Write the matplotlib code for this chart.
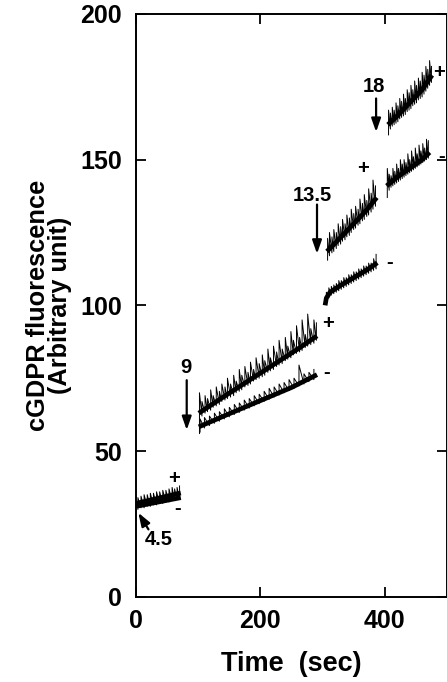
import numpy as np
import matplotlib
matplotlib.use("Agg")
import matplotlib.pyplot as plt

plt.rcParams['font.family'] = ['Liberation Sans', 'DejaVu Sans']
plt.rcParams['font.weight'] = 'bold'

# ================= data =================
# ---- 4.5 mM ----
core1p_t = [0, 36, 72]
core1p_v = [32, 33.8, 35.6]
core1m_t = [0, 36, 72]
core1m_v = [31, 32.5, 34]
spk1_t = [3, 8, 13, 18, 23, 28, 33, 38, 43, 48, 53, 58, 62, 66, 70]
spk1_hi = [34, 34.5, 35, 35, 35.5, 35.5, 36, 36, 36.5, 36.5, 37, 37.5, 37, 37.5, 38]
spk1_lo = [30, 30.5, 30.5, 31, 31, 31.5, 31.5, 32, 32, 32.5, 32.5, 33, 33, 33.5, 33.5]

# ---- 9 mM (+) ----
core2p_t = [101, 140, 180, 220, 260, 291]
core2p_v = [63, 68.5, 74, 79.5, 85, 89.5]
spk2p_t = [102, 106, 111, 115, 120, 124, 129, 134, 138, 143, 147, 152, 157, 161, 166, 170,
           175, 180, 184, 189, 193, 198, 203, 207, 212, 216, 221, 226, 230, 235, 240, 244,
           249, 253, 258, 263, 267, 272, 276, 281, 286, 290]
spk2p_hi = [70, 67, 69, 68, 71, 69, 72, 70.5, 73, 72, 75, 73, 76, 74, 78, 76, 79, 77, 80.5,
            78, 82, 80, 83, 81, 85, 82, 86, 84, 88, 85, 89, 86, 91, 88, 93, 89, 95, 90, 97,
            92, 95, 94]
spk2p_lo = [56, 62, 63, 63.5, 64, 65, 65.5, 66, 67, 67.5, 68, 68.5, 69, 70, 70.5, 71, 72,
            72.5, 73, 74, 74.5, 75, 75.5, 76, 77, 77.5, 78, 79, 79.5, 80, 81, 81.5, 82, 83,
            83.5, 84, 84.5, 85.5, 86, 86.5, 87, 88]

# ---- 9 mM (-) ----
core2m_t = [101, 150, 200, 250, 291]
core2m_v = [58.3, 62.8, 67.3, 71.8, 76.2]
spk2m_t = [103, 110, 118, 126, 134, 142, 150, 158, 166, 174, 182, 190, 198, 206, 214, 222,
           230, 238, 246, 254, 262, 270, 278, 286]
spk2m_hi = [61, 61.5, 62, 63, 63.5, 64.5, 65, 66, 66.5, 67.5, 68, 69, 69.5, 70.5, 71.5, 72,
            73, 73.5, 74.5, 75, 79.5, 76.5, 77, 78]
spk2m_lo = [56.5, 57.9, 58.7, 59.5, 60.2, 61, 61.7, 62.5, 63.2, 64, 64.7, 65.5, 66.2, 67,
            67.7, 68.5, 69.2, 70, 70.7, 71.5, 72.3, 73, 73.8, 74.5]

# ---- 13.5 mM (+) ----
core3p_t = [307, 330, 350, 370, 387]
core3p_v = [118.5, 123.5, 128, 132.5, 137]
spk3p_t = [308, 311, 315, 318, 322, 325, 329, 332, 336, 339, 343, 346, 350, 353, 357, 360,
           364, 367, 371, 374, 378, 381, 385]
spk3p_hi = [123, 125, 123.5, 126, 125, 128, 127, 129.5, 128, 131, 130, 133, 131.5, 134, 133,
            136.5, 135, 138, 136, 140, 138.5, 143, 141]
spk3p_lo = [115.5, 117, 118, 118.5, 119.5, 120.5, 121, 122, 122.5, 123.5, 124, 125, 126,
            126.5, 127.5, 128, 129, 129.5, 130.5, 131, 132, 133, 134]

# ---- 13.5 mM (-) ----
core3m_t = [304, 306, 312, 330, 350, 370, 388]
core3m_v = [100, 102.5, 104.5, 107, 109.5, 112, 114.6]
spk3m_t = [306, 310, 314, 318, 322, 326, 330, 334, 338, 342, 346, 350, 354, 358, 362, 366,
           370, 374, 378, 382, 386]
spk3m_hi = [104.5, 106, 106.5, 107, 107.5, 108.5, 108.5, 109.5, 109.5, 110.5, 110.5, 111.5,
            111.5, 112.5, 112.5, 113.5, 113.5, 114.5, 114.5, 116, 117.5]
spk3m_lo = [100.5, 102.5, 103.5, 104, 104.5, 105, 105.5, 106, 106.5, 107, 107.5, 108, 108.5,
            109, 109.5, 110, 110.5, 111, 111.5, 112, 112.5]

# ---- 18 mM (-) ----
core4m_t = [403, 420, 440, 460, 472]
core4m_v = [141, 144, 147, 150, 152.5]
spk4m_t = [404, 407, 410, 413, 416, 419, 422, 425, 428, 431, 434, 437, 440, 443, 446, 449,
           452, 455, 458, 461, 464, 467, 470]
spk4m_hi = [147, 145, 144.5, 147, 146, 148.5, 147, 150, 148.5, 150, 149, 152, 150, 153, 151,
            154, 152, 155, 153, 155.5, 154, 157, 156.5]
spk4m_lo = [137, 139.5, 140.5, 141, 141.5, 142, 142.5, 143, 143.5, 144, 144.5, 145, 145.5,
            146, 146.5, 147, 147.5, 148, 148.5, 149, 149.5, 150, 150.5]

# ---- 18 mM (+) ----
core4p_t = [405, 420, 440, 460, 476]
core4p_v = [162, 165, 169.5, 174, 179]
spk4p_t = [406, 409, 412, 415, 418, 421, 424, 427, 430, 433, 436, 439, 442, 445, 448, 451,
           454, 457, 460, 463, 466, 469, 472, 475]
spk4p_hi = [167, 166, 168, 167, 169.5, 168.5, 171, 170, 172.5, 171, 174, 173, 175.5, 174, 177,
            175.5, 178, 177, 180, 179, 182, 181, 184, 182]
spk4p_lo = [158.5, 160.5, 161.5, 162, 162.5, 163, 164, 164.5, 165, 165.5, 166.5, 167, 167.5,
            168.5, 169, 169.5, 170.5, 171, 171.5, 172.5, 173.5, 174.5, 175.5, 176.5]

# concentration labels
conc_labels = ['4.5', '9', '13.5', '18']
conc_text_xy = [(36.5, 19.5), (80, 78.8), (283.5, 137.8), (383, 175)]
conc_arrow_tail = [(20, 23.1), (81.5, 74.3), (291, 134.6), (386, 171)]
conc_arrow_tip = [(3.7, 28.8), (81.5, 57.2), (291, 117.7), (386, 159.5)]

sign_text = ['+', '-', '+', '-', '+', '-', '+', '-']
sign_x = [61, 66, 309, 307, 365, 408, 488, 491]
sign_y = [40.7, 30.4, 93.6, 76.8, 147, 114.6, 180, 151]

x_ticks = [0, 200, 400]
y_ticks = [0, 50, 100, 150, 200]

# ================= figure =================
fig = plt.figure(figsize=(4.47, 6.82), dpi=100)
ax = fig.add_axes([0.3043, 0.1251, 0.6957, 0.8544])

cores = [(core1p_t, core1p_v), (core1m_t, core1m_v), (core2p_t, core2p_v),
         (core2m_t, core2m_v), (core3p_t, core3p_v), (core3m_t, core3m_v),
         (core4m_t, core4m_v), (core4p_t, core4p_v)]
for t, v in cores:
    ax.plot(t, v, color='black', lw=3.4, solid_capstyle='butt')

spikes = [(spk1_t, spk1_lo, spk1_hi), (spk2p_t, spk2p_lo, spk2p_hi),
          (spk2m_t, spk2m_lo, spk2m_hi), (spk3p_t, spk3p_lo, spk3p_hi),
          (spk3m_t, spk3m_lo, spk3m_hi), (spk4m_t, spk4m_lo, spk4m_hi),
          (spk4p_t, spk4p_lo, spk4p_hi)]
for t, lo, hi in spikes:
    # noisy trace: each reading goes from its low to its high value, then on to the next
    xs = np.repeat(np.asarray(t, float), 2)
    ys = np.column_stack([lo, hi]).ravel()
    ax.plot(xs, ys, color='black', lw=0.7)

ax.set_xlim(0, 500)
ax.set_ylim(0, 200)
ax.set_xticks(x_ticks)
ax.set_yticks(y_ticks)
ax.tick_params(direction='in', length=7, width=1.3, labelsize=18, top=True, right=True,
               labeltop=False, labelright=False)
ax.tick_params(axis='x', pad=9)
ax.tick_params(axis='y', pad=10)
for s in ax.spines.values():
    s.set_linewidth(1.4)

ax.set_xlabel('Time  (sec)', fontsize=19.5, fontweight='bold', labelpad=13)
ax.set_ylabel('cGDPR fluorescence\n(Arbitrary unit)', fontsize=18.3, fontweight='bold',
              labelpad=6, linespacing=0.92)

fs = 14.5
for lab, txy, tail, tip in zip(conc_labels, conc_text_xy, conc_arrow_tail, conc_arrow_tip):
    ax.text(txy[0], txy[1], lab, fontsize=fs, ha='center', va='center')
    ax.annotate('', xy=tip, xytext=tail,
                arrowprops=dict(arrowstyle='-|>,head_width=0.28,head_length=0.8',
                                color='black', lw=1.6, shrinkA=0, shrinkB=0))

for s, x, y in zip(sign_text, sign_x, sign_y):
    ax.text(x, y, s, fontsize=fs, ha='center', va='center')

fig.savefig('out.png', dpi=100)
